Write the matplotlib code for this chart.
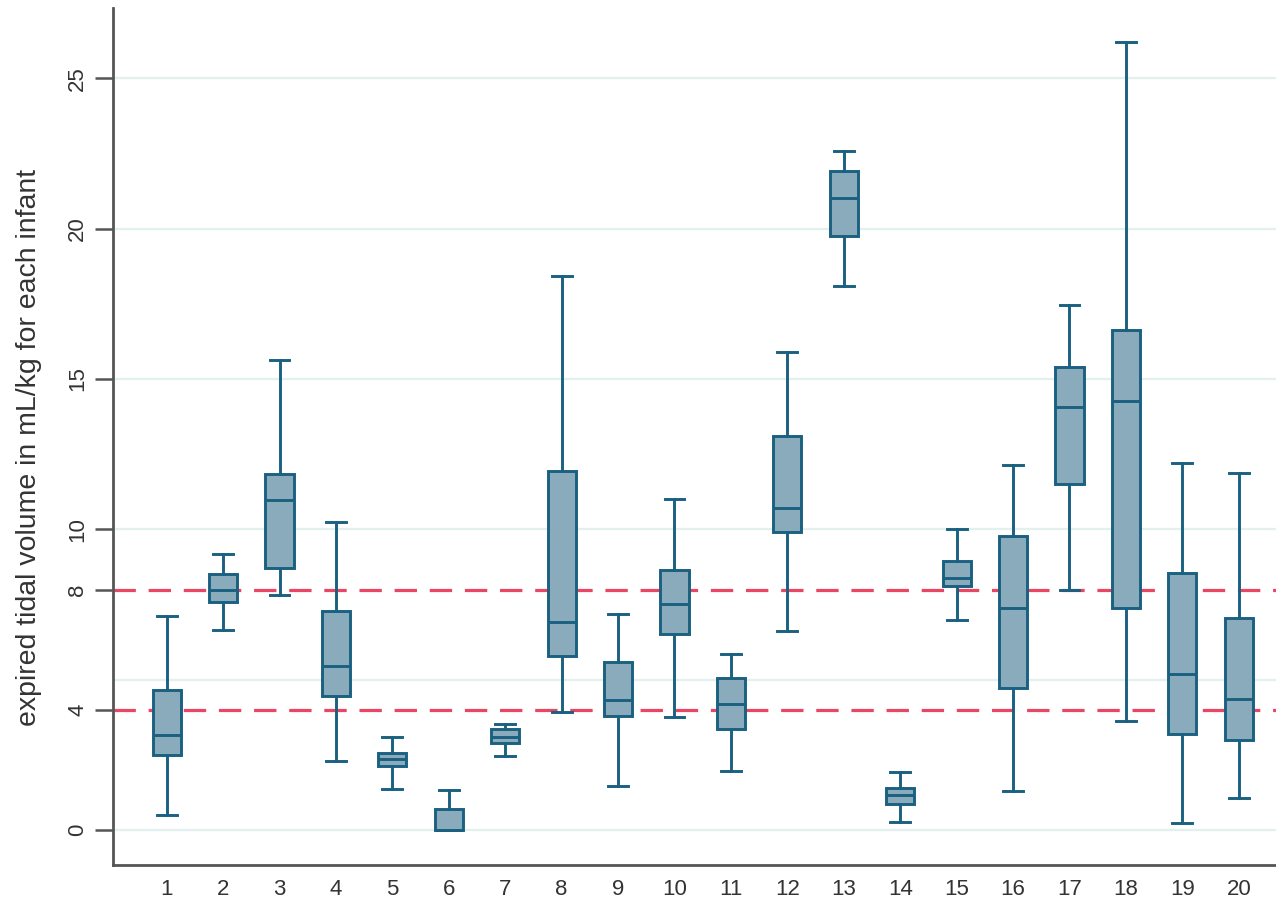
import matplotlib
matplotlib.use("Agg")
import matplotlib.pyplot as plt

plt.rcParams['font.family'] = ['Liberation Sans', 'DejaVu Sans']

# per-infant summary of expired tidal volume (mL/kg)
infants = list(range(1, 21))
whisk_lo = [0.50, 6.65, 7.81, 2.29, 1.36, 0.00, 2.45, 3.92, 1.46, 3.76,
            1.96, 6.62, 18.09, 0.27, 6.98, 1.30, 7.98, 3.62, 0.23, 1.06]
q1 = [2.49, 7.58, 8.71, 4.45, 2.13, 0.00, 2.89, 5.78, 3.79, 6.52,
      3.36, 9.91, 19.75, 0.86, 8.11, 4.72, 11.50, 7.38, 3.19, 2.99]
medians = [3.16, 7.98, 10.97, 5.45, 2.38, 0.02, 3.10, 6.91, 4.32, 7.51,
           4.19, 10.70, 21.01, 1.16, 8.38, 7.38, 14.06, 14.26, 5.19, 4.36]
q3 = [4.65, 8.51, 11.84, 7.28, 2.56, 0.70, 3.35, 11.93, 5.59, 8.64,
      5.05, 13.10, 21.91, 1.40, 8.94, 9.77, 15.39, 16.62, 8.54, 7.05]
whisk_hi = [7.11, 9.18, 15.62, 10.24, 3.09, 1.33, 3.54, 18.42, 7.18, 11.00,
            5.85, 15.89, 22.57, 1.93, 10.01, 12.13, 17.45, 26.20, 12.20, 11.87]

target_range = [4, 8]
ytick_vals = [0, 4, 8, 10, 15, 20, 25]
grid_vals = [0, 5, 10, 15, 20, 25]

box_fill = '#89abbc'
box_edge = '#1a6080'

fig = plt.figure(figsize=(12.76, 9.02), dpi=100)
ax = fig.add_axes([0.0886, 0.041, 0.9114, 0.950])

for g in grid_vals:
    ax.axhline(g, color='#e3f0f0', lw=1.6, zorder=0)

for t in target_range:
    ax.axhline(t, color='#ea4563', lw=2.3, dashes=(7, 4), zorder=1)

stats = []
for i in range(len(infants)):
    stats.append(dict(label=str(infants[i]), whislo=whisk_lo[i], q1=q1[i],
                      med=medians[i], q3=q3[i], whishi=whisk_hi[i], fliers=[]))

lw = 2.1
ax.bxp(stats, positions=infants, widths=0.5, patch_artist=True,
       showfliers=False,
       boxprops=dict(facecolor=box_fill, edgecolor=box_edge, linewidth=lw),
       medianprops=dict(color=box_edge, linewidth=lw),
       whiskerprops=dict(color=box_edge, linewidth=lw),
       capprops=dict(color=box_edge, linewidth=lw),
       capwidths=0.35, zorder=3)

ax.set_xlim(0.05, 20.66)
ax.set_ylim(-1.16, 27.33)
ax.set_yticks(ytick_vals)
ax.set_yticklabels([str(v) for v in ytick_vals], rotation=90, va='center')
ax.set_xticks(infants)
ax.set_xticklabels([str(v) for v in infants])

ax.tick_params(axis='y', length=13, width=1.8, color='#555555',
               labelsize=16, labelcolor='#333333', pad=5)
ax.tick_params(axis='x', length=0, labelsize=16, labelcolor='#333333', pad=10)

ax.set_ylabel('expired tidal volume in mL/kg for each infant',
              fontsize=20.5, color='#333333')
ax.yaxis.set_label_coords(-0.061, 0.487)

for side in ['top', 'right']:
    ax.spines[side].set_visible(False)
for side in ['left', 'bottom']:
    ax.spines[side].set_color('#555555')
    ax.spines[side].set_linewidth(2.0)

fig.savefig('out.png', dpi=100, facecolor='white')
